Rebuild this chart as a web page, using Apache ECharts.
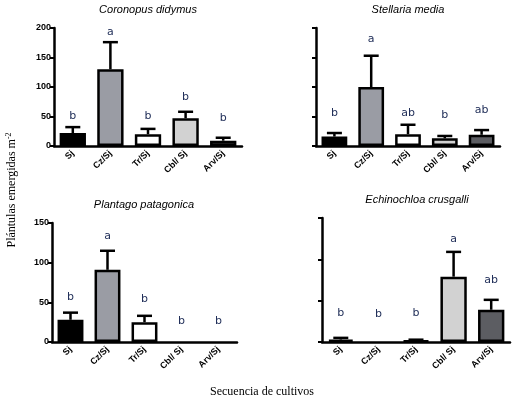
<!DOCTYPE html>
<html>
<head>
<meta charset="utf-8">
<script src="https://cdn.jsdelivr.net/npm/echarts@6/dist/echarts.min.js"></script>
<style>
  html, body { margin: 0; padding: 0; background: #fff; }
  #chart { width: 524px; height: 399px; }
</style>
</head>
<body>
<div id="chart"></div>
<script>
const categories = ['Sj', 'Cz/Sj', 'Tr/Sj', 'Cbl/ Sj', 'Arv/Sj'];

// Coronopus didymus
const coronopusMean = [22, 130, 20, 47, 9];
const coronopusErr = [10, 46, 9, 11, 5];
const coronopusLetters = ['b', 'a', 'b', 'b', 'b'];
const coronopusLetterY = [51, 193, 51, 83, 47];

// Stellaria media
const stellariaMean = [16, 100, 20, 13, 19];
const stellariaErr = [6, 53, 16, 4, 8];
const stellariaLetters = ['b', 'a', 'ab', 'b', 'ab'];
const stellariaLetterY = [56, 181, 56, 53, 61];

// Plantago patagonica
const plantagoMean = [28, 91, 25, 0, 0];
const plantagoErr = [9, 24, 8, 0, 0];
const plantagoLetters = ['b', 'a', 'b', 'b', 'b'];
const plantagoLetterY = [57, 134, 54, 26, 26];

// Echinochloa crusgalli
const echinoMean = [3, 0, 1.6, 79, 39];
const echinoErr = [2, 0, 1.2, 30, 12];
const echinoLetters = ['b', 'b', 'b', 'a', 'ab'];
const echinoLetterY = [35, 34, 35, 125, 75];

const titles = ['Coronopus didymus', 'Stellaria media', 'Plantago patagonica', 'Echinochloa crusgalli'];
const yMax = [200, 200, 150, 150];
const yStep = [50, 50, 50, 50];

const barColors = ['#000000', '#9a9ca4', '#ffffff', '#d2d2d2', '#5c5d62'];
const LETTER = '#22305a';

const panels = [
  { mean: coronopusMean, err: coronopusErr, letters: coronopusLetters, ly: coronopusLetterY,
    grid: { left: 54, top: 28, width: 188, height: 118 }, labels: true, title: [148, 10] },
  { mean: stellariaMean, err: stellariaErr, letters: stellariaLetters, ly: stellariaLetterY,
    grid: { left: 316, top: 28, width: 184, height: 118 }, labels: false, title: [408, 10] },
  { mean: plantagoMean, err: plantagoErr, letters: plantagoLetters, ly: plantagoLetterY,
    grid: { left: 52, top: 223, width: 185, height: 119 }, labels: true, title: [144, 205] },
  { mean: echinoMean, err: echinoErr, letters: echinoLetters, ly: echinoLetterY,
    grid: { left: 322, top: 218, width: 188, height: 124 }, labels: false, title: [417, 200] },
];

const chart = echarts.init(document.getElementById('chart'), null, { renderer: 'canvas' });

const grids = [], xAxes = [], yAxes = [], series = [], graphics = [];

panels.forEach((p, i) => {
  grids.push(p.grid);
  xAxes.push({
    type: 'category', gridIndex: i, data: categories,
    axisLine: { lineStyle: { color: '#000', width: 2.5 } },
    axisTick: { alignWithLabel: true, length: 4, lineStyle: { color: '#000', width: 1.5 } },
    axisLabel: {
      rotate: 45, margin: 6, color: '#000', fontFamily: 'Arial, Liberation Sans, sans-serif',
      fontWeight: 'bold', fontSize: 9, interval: 0,
    },
  });
  yAxes.push({
    type: 'value', gridIndex: i, min: 0, max: yMax[i], interval: yStep[i],
    splitLine: { show: false },
    axisLine: { show: true, lineStyle: { color: '#000', width: 2.5 } },
    axisTick: { show: true, length: 4, lineStyle: { color: '#000', width: 2 } },
    axisLabel: {
      show: p.labels, margin: 3, color: '#000', fontFamily: 'Arial, Liberation Sans, sans-serif',
      fontWeight: 'bold', fontSize: 9,
    },
  });

  series.push({
    type: 'bar', xAxisIndex: i, yAxisIndex: i, barWidth: '70%',
    data: p.mean.map((v, k) => ({
      value: v,
      itemStyle: { color: barColors[k], borderColor: '#000', borderWidth: v > 0 ? 2.5 : 0 },
    })),
    z: 2,
  });

  // upper error bars
  series.push({
    type: 'custom', xAxisIndex: i, yAxisIndex: i, z: 3,
    data: p.mean.map((v, k) => [k, v, v + p.err[k]]),
    renderItem: (params, api) => {
      const lo = api.coord([api.value(0), api.value(1)]);
      const hi = api.coord([api.value(0), api.value(2)]);
      if (lo[1] - hi[1] < 0.5) return { type: 'group', children: [] };
      const cap = 7.5;
      const style = { stroke: '#000', lineWidth: 2.5 };
      return {
        type: 'group',
        children: [
          { type: 'line', shape: { x1: lo[0], y1: lo[1], x2: hi[0], y2: hi[1] }, style },
          { type: 'line', shape: { x1: hi[0] - cap, y1: hi[1], x2: hi[0] + cap, y2: hi[1] }, style },
        ],
      };
    },
  });

  // significance letters
  series.push({
    type: 'custom', xAxisIndex: i, yAxisIndex: i, z: 4,
    data: p.ly.map((v, k) => [k, v]),
    renderItem: (params, api) => {
      const pt = api.coord([api.value(0), api.value(1)]);
      return {
        type: 'text', x: pt[0], y: pt[1],
        style: {
          text: p.letters[params.dataIndex], fill: LETTER, align: 'center', verticalAlign: 'middle',
          font: '11px Verdana, DejaVu Sans, sans-serif',
        },
      };
    },
  });

  graphics.push({
    type: 'text', x: p.title[0], y: p.title[1],
    style: {
      text: titles[i], fill: '#000', align: 'center', verticalAlign: 'middle',
      font: 'italic 11px Arial, Liberation Sans, sans-serif',
    },
  });
});

graphics.push({
  type: 'text', x: 262, y: 392,
  style: {
    text: 'Secuencia de cultivos', fill: '#000', align: 'center', verticalAlign: 'middle',
    font: '12px "Liberation Serif", "Times New Roman", serif',
  },
});
graphics.push({
  type: 'text', x: 12, y: 190, rotation: Math.PI / 2,
  style: {
    text: '{a|Plántulas emergidas m}{s|-2}', fill: '#000', align: 'center', verticalAlign: 'middle',
    rich: {
      a: { fontFamily: '"Liberation Serif", "Times New Roman", serif', fontSize: 12, fill: '#000' },
      s: { fontFamily: '"Liberation Serif", "Times New Roman", serif', fontSize: 8, fill: '#000', verticalAlign: 'top', padding: [0, 0, 6, 0] },
    },
  },
});

chart.setOption({
  animation: false,
  backgroundColor: '#fff',
  grid: grids,
  xAxis: xAxes,
  yAxis: yAxes,
  series,
  graphic: graphics,
});
</script>
</body>
</html>
